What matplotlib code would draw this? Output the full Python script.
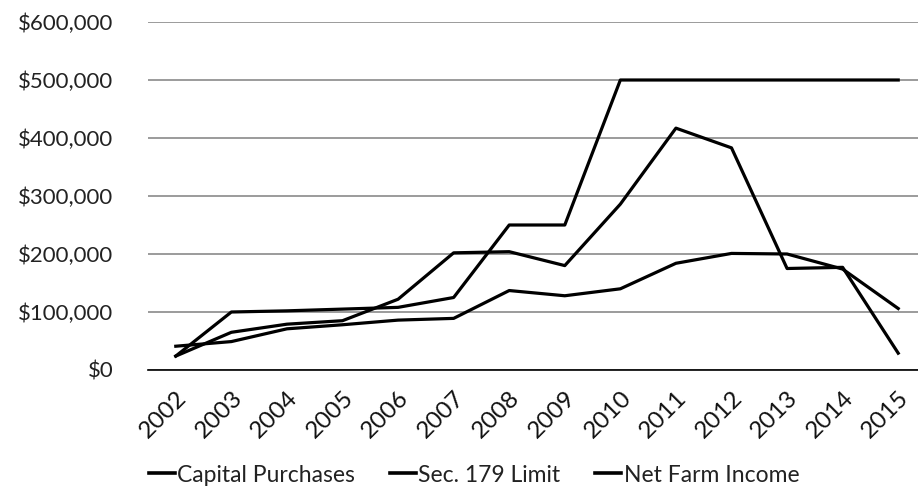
import matplotlib
matplotlib.use("Agg")
import matplotlib.pyplot as plt
from matplotlib.ticker import FuncFormatter, MultipleLocator

plt.rcParams['font.family'] = ['Lato', 'DejaVu Sans']

years = [str(y) for y in range(2002, 2016)]
capital_purchases = [41000, 49000, 71000, 78000, 86000, 89000, 137000,
                     128000, 140000, 184000, 201000, 200000, 174000, 106000]
sec179_limit = [24000, 100000, 102000, 105000, 108000, 125000, 250000,
                250000, 500000, 500000, 500000, 500000, 500000, 500000]
net_farm_income = [24000, 65000, 79000, 85000, 122000, 202000, 204000,
                   180000, 286000, 417000, 383000, 175000, 177000, 29000]

fig = plt.figure(figsize=(9.18, 4.91), dpi=100)
ax = fig.add_axes([148 / 918, 1 - 370 / 491, (926 - 148) / 918, (370 - 22) / 491])

x = list(range(len(years)))
lw = 2.3
ax.plot(x, capital_purchases, color='black', lw=lw, label='Capital Purchases')
ax.plot(x, sec179_limit, color='black', lw=lw, label='Sec. 179 Limit')
ax.plot(x, net_farm_income, color='black', lw=lw, label='Net Farm Income')

ax.set_xlim(-0.5, len(years) - 0.5)
ax.set_ylim(0, 600000)
ax.yaxis.set_major_locator(MultipleLocator(100000))
ax.yaxis.set_major_formatter(FuncFormatter(lambda v, p: f"${v:,.0f}"))
ax.grid(axis='y', color='#8a8a8a', lw=1.2)
ax.set_axisbelow(True)

for s in ['top', 'right', 'left']:
    ax.spines[s].set_visible(False)
ax.spines['bottom'].set_color('black')
ax.spines['bottom'].set_linewidth(1.2)
ax.spines['bottom'].set_zorder(1)

ax.set_xticks(x)
ax.set_xticklabels(years, rotation=45, ha='right', rotation_mode='anchor',
                   fontsize=17.5, color='#111111')
ax.tick_params(axis='x', length=0, pad=12)
ax.tick_params(axis='y', length=0, pad=25, labelsize=16, labelcolor='#222222')

leg = fig.legend(loc='center', bbox_to_anchor=(474 / 918, 1 - 475 / 491), ncol=3,
                 frameon=False, fontsize=16.5, handlelength=1.15, handletextpad=0.1,
                 columnspacing=1.5)
for t in leg.get_texts():
    t.set_color('#222222')
for h in leg.legend_handles:
    h.set_linewidth(2.6)

fig.savefig('out.png', dpi=100)
